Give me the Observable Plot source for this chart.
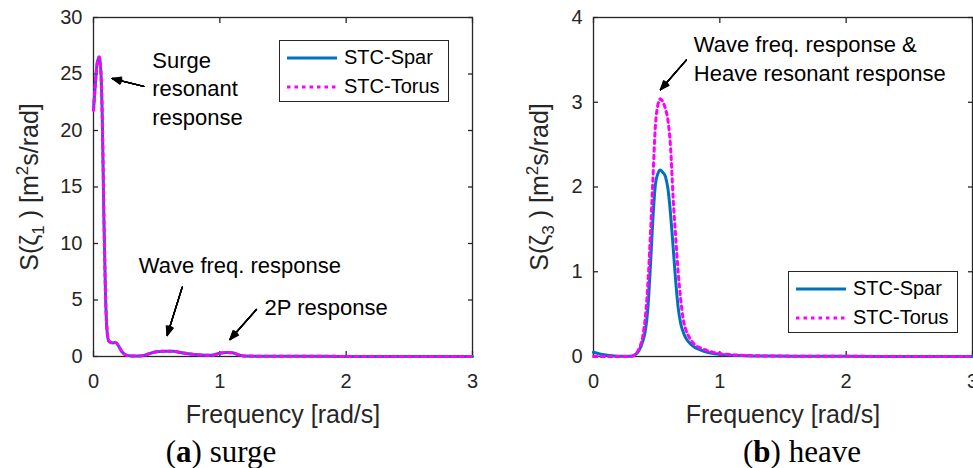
<!DOCTYPE html>
<html><head><meta charset="utf-8">
<script src="https://cdn.jsdelivr.net/npm/d3@7"></script>
<script src="https://cdn.jsdelivr.net/npm/@observablehq/plot@0.6"></script>
<style>
body{margin:0;background:#fff;overflow:hidden;}
#wrap{position:relative;width:973px;height:468px;overflow:hidden;font-family:"Liberation Sans",Arial,sans-serif;}
.legend{position:absolute;border:1px solid #262626;background:#fff;box-sizing:border-box;width:170px;height:62px;padding-top:2px;}
.row{display:flex;align-items:center;height:29px;padding-left:7px;font-size:20px;color:#000;white-space:nowrap;}
.row svg{margin-right:7px;flex:none;}
.cap{position:absolute;font-family:"Liberation Serif","Times New Roman",serif;font-size:31px;line-height:31px;white-space:nowrap;transform:translateX(-50%);color:#000;}
</style></head><body><div id="wrap"></div>
<script>
// ---- data ----
const seriesNames = ["STC-Spar", "STC-Torus"];
const seriesColors = ["#0072BD", "#FF00FF"];
const xTicks = [0, 1, 2, 3];
const surgeYTicks = [0, 5, 10, 15, 20, 25, 30];
const heaveYTicks = [0, 1, 2, 3, 4];
const xLabel = "Frequency [rad/s]";
// y label pieces: [before sub, subscript, middle, superscript, after]
const surgeYLabel = ["S(ζ", "1", " ) [m", "2", "s/rad]"];
const heaveYLabel = ["S(ζ", "3", " ) [m", "2", "s/rad]"];
const captions = [["a", " surge"], ["b", " heave"]];

const surgeFreq  = [0, 0.015, 0.03, 0.045, 0.058, 0.07, 0.082, 0.095, 0.108, 0.12, 0.135, 0.155, 0.175, 0.2, 0.227, 0.26, 0.3, 0.35, 0.4, 0.45, 0.5, 0.56, 0.63, 0.7, 0.75, 0.85, 0.93, 1.0, 1.05, 1.1, 1.14, 1.19, 1.3, 1.5, 2.0, 2.5, 3.0];
const surgeSpar  = [21.8, 24.2, 26.0, 26.5, 25.3, 20.8, 12.5, 5.5, 2.2, 1.4, 1.25, 1.2, 1.25, 0.9, 0.4, 0.12, 0.05, 0.04, 0.1, 0.28, 0.42, 0.47, 0.46, 0.33, 0.24, 0.13, 0.1, 0.28, 0.36, 0.33, 0.18, 0.05, 0.03, 0.02, 0.01, 0.005, 0.005];
const surgeTorus = [21.8, 24.2, 26.0, 26.5, 25.3, 20.8, 12.5, 5.5, 2.2, 1.4, 1.25, 1.2, 1.25, 0.9, 0.4, 0.12, 0.05, 0.04, 0.1, 0.28, 0.42, 0.47, 0.46, 0.33, 0.24, 0.13, 0.1, 0.28, 0.36, 0.33, 0.18, 0.05, 0.03, 0.02, 0.01, 0.005, 0.005];

const heaveFreq  = [0, 0.05, 0.1, 0.15, 0.2, 0.25, 0.3, 0.33, 0.36, 0.39, 0.41, 0.43, 0.45, 0.47, 0.49, 0.51, 0.53, 0.55, 0.57, 0.59, 0.61, 0.63, 0.65, 0.67, 0.69, 0.71, 0.73, 0.76, 0.8, 0.85, 0.9, 1.0, 1.1, 1.2, 1.4, 1.6, 2.0, 2.5, 3.0];
const heaveSpar  = [0.05, 0.03, 0.017, 0.008, 0.004, 0.002, 0.004, 0.02, 0.07, 0.18, 0.3, 0.56, 1.05, 1.62, 2.03, 2.16, 2.2, 2.17, 2.12, 1.97, 1.68, 1.3, 0.9, 0.58, 0.39, 0.29, 0.22, 0.16, 0.11, 0.075, 0.05, 0.025, 0.015, 0.01, 0.005, 0.003, 0.002, 0.001, 0.001];
const heaveTorus = [0, 0, 0, 0, 0, 0.001, 0.003, 0.025, 0.09, 0.24, 0.46, 0.84, 1.42, 2.08, 2.72, 2.97, 3.04, 3.0, 2.92, 2.78, 2.47, 1.88, 1.42, 1.0, 0.68, 0.44, 0.32, 0.22, 0.14, 0.1, 0.07, 0.035, 0.02, 0.012, 0.006, 0.004, 0.002, 0.001, 0.001];

// annotations (data units)
const surgeNotes  = [
  {x: 0.465, y: 27.34, text: "Surge\nresonant\nresponse"},
  {x: 0.359, y: 9.19, text: "Wave freq. response"},
  {x: 1.354, y: 5.51, text: "2P response"}
];
const surgeArrows = [
  {x1: 0.398, y1: 23.9, x2: 0.148, y2: 24.6},
  {x1: 0.702, y1: 6.13, x2: 0.583, y2: 1.86},
  {x1: 1.29, y1: 4.16, x2: 1.08, y2: 1.5}
];
const heaveNotes  = [{x: 0.794, y: 3.83, text: "Wave freq. response &\nHeave resonant response"}];
const heaveArrows = [{x1: 0.736, y1: 3.50, x2: 0.530, y2: 3.147}];

// ---- build ----
function rows(freq, vals, name) { return freq.map((f, i) => ({f, s: vals[i], series: name})); }
const fmt = d => String(d);

function panel({width, marginLeft, marginRight, yDomain, yTicks, spar, torus, freq, notes, arrows, yLabel, yLabelDx}) {
  const axisCol = "#262626";
  const joined = yLabel.join("");
  // stacked arrows of decreasing head angle give a filled-looking head
  const arrowMarks = [44, 34, 24, 14, 4].map(a =>
    Plot.arrow(arrows, {x1: "x1", y1: "y1", x2: "x2", y2: "y2", stroke: "black", strokeWidth: 1.3, headLength: 11, headAngle: a}));
  const svg = Plot.plot({
    width, height: 430, marginLeft, marginRight, marginTop: 17, marginBottom: 74,
    x: {domain: [0, 3], axis: null},
    y: {domain: yDomain, axis: null},
    style: {fontFamily: '"Liberation Sans", Arial, sans-serif', fontSize: "20px", color: axisCol, background: "white", overflow: "visible"},
    marks: [
      Plot.frame({stroke: axisCol, strokeWidth: 1.3}),
      Plot.axisX(xTicks, {anchor: "bottom", tickSize: -5, tickFormat: () => "", label: null, strokeWidth: 1.3}),
      Plot.axisX(xTicks, {anchor: "top", tickSize: -5, tickFormat: () => "", label: null, strokeWidth: 1.3}),
      Plot.axisY(yTicks, {anchor: "left", tickSize: -5, tickFormat: () => "", label: null, strokeWidth: 1.3}),
      Plot.axisY(yTicks, {anchor: "right", tickSize: -5, tickFormat: () => "", label: null, strokeWidth: 1.3}),
      Plot.axisX(xTicks, {anchor: "bottom", tickSize: 0, tickPadding: 17, tickFormat: fmt, label: null, fontSize: 20}),
      Plot.axisY(yTicks, {anchor: "left", tickSize: 0, tickPadding: 11, tickFormat: fmt, label: null, fontSize: 20}),
      Plot.line(rows(freq, spar, seriesNames[0]), {x: "f", y: "s", stroke: seriesColors[0], strokeWidth: 3, curve: "monotone-x"}),
      Plot.line(rows(freq, torus, seriesNames[1]), {x: "f", y: "s", stroke: seriesColors[1], strokeWidth: 3, strokeDasharray: "3.5,4", curve: "monotone-x"}),
      ...arrowMarks,
      Plot.text(notes, {x: "x", y: "y", text: "text", textAnchor: "start", lineAnchor: "top", lineHeight: 1.3, fontSize: 22, fill: "black"}),
      Plot.text([xLabel], {frameAnchor: "bottom", text: d => d, textAnchor: "middle", lineAnchor: "middle", dy: 58, fontSize: 25, fill: axisCol}),
      Plot.text([joined], {frameAnchor: "left", text: d => d, textAnchor: "middle", lineAnchor: "middle", rotate: -90, dx: yLabelDx, fontSize: 25, fill: axisCol})
    ]
  });
  // rebuild y label with real subscript / superscript
  const t = d3.select(svg).selectAll("text").filter(function() { return this.textContent === joined; });
  t.text(null);
  t.append("tspan").text(yLabel[0]);
  t.append("tspan").attr("font-size", "17px").attr("dy", "6px").text(yLabel[1]);
  t.append("tspan").attr("dy", "-6px").text(yLabel[2]);
  t.append("tspan").attr("font-size", "17px").attr("dy", "-10px").text(yLabel[3]);
  t.append("tspan").attr("dy", "10px").text(yLabel[4]);
  return svg;
}

const wrap = document.getElementById("wrap");
function place(el, left, top) { el.style.position = "absolute"; el.style.left = left + "px"; el.style.top = top + "px"; wrap.appendChild(el); return el; }

const p1 = panel({width: 490, marginLeft: 93, marginRight: 18, yDomain: [0, 30], yTicks: surgeYTicks,
  spar: surgeSpar, torus: surgeTorus, freq: surgeFreq, notes: surgeNotes, arrows: surgeArrows, yLabel: surgeYLabel, yLabelDx: -64});
const p2 = panel({width: 483, marginLeft: 103, marginRight: 1, yDomain: [0, 4], yTicks: heaveYTicks,
  spar: heaveSpar, torus: heaveTorus, freq: heaveFreq, notes: heaveNotes, arrows: heaveArrows, yLabel: heaveYLabel, yLabelDx: -54});
place(p1, 0, 0);
place(p2, 490, 0);

function legend(left, top) {
  const box = document.createElement("div");
  box.className = "legend";
  seriesNames.forEach((name, i) => {
    const row = document.createElement("div");
    row.className = "row";
    const svg = d3.create("svg").attr("width", 50).attr("height", 6);
    svg.append("line").attr("x1", 0).attr("x2", 50).attr("y1", 3).attr("y2", 3)
      .attr("stroke", seriesColors[i]).attr("stroke-width", 3)
      .attr("stroke-dasharray", i === 1 ? "3.5,4" : null);
    row.appendChild(svg.node());
    const t = document.createElement("span");
    t.textContent = name;
    row.appendChild(t);
    box.appendChild(row);
  });
  return place(box, left, top);
}
legend(279, 40);
legend(788, 271);

function caption(c, cx) {
  const d = document.createElement("div");
  d.className = "cap";
  d.innerHTML = "(<b>" + c[0] + "</b>)" + c[1];
  return place(d, cx, 436);
}
caption(captions[0], 221);
caption(captions[1], 802);
</script></body></html>
